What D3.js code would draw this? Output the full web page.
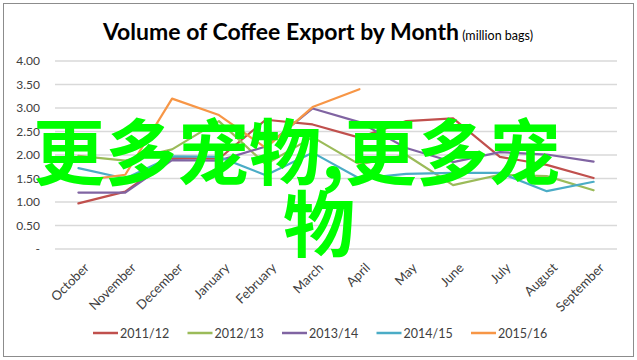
<!DOCTYPE html>
<html><head><meta charset="utf-8">
<script src="https://cdn.jsdelivr.net/npm/d3@7"></script>
<style>body{margin:0;background:#fff}svg{display:block}</style>
</head><body>
<svg id="c" width="637" height="360"></svg>
<script>
const months = ["October","November","December","January","February","March","April","May","June","July","August","September"];
const seriesNames = ["2011/12","2012/13","2013/14","2014/15","2015/16"];
const colors = ["#C0504D","#9BBB59","#8064A2","#4BACC6","#F79646"];
const s2011 = [0.97,1.22,1.94,1.92,2.75,2.65,2.37,2.72,2.78,1.96,1.79,1.51];
const s2012 = [1.98,1.88,2.12,2.72,1.80,2.38,1.80,2.00,1.36,1.58,1.55,1.25];
const s2013 = [1.20,1.20,1.89,1.88,2.18,2.99,2.70,2.15,1.85,2.06,2.01,1.86];
const s2014 = [1.72,1.50,1.97,1.96,1.57,2.05,1.50,1.60,1.62,1.62,1.23,1.43];
const s2015 = [1.45,1.58,3.20,2.85,2.15,3.02,3.40,null,null,null,null,null];
const yTicks = [0,0.5,1,1.5,2,2.5,3,3.5,4];
const titleMain = "Volume of Coffee Export by Month";
const titleSub = "(million bags)";
const overlayLines = ["更多宠物,更多宠","物"];

const data = [s2011,s2012,s2013,s2014,s2015];
const svg = d3.select("#c");

svg.append("rect").attr("x",3.5).attr("y",3.5).attr("width",630).attr("height",353)
  .attr("fill","#fff").attr("stroke","#8c8c8c").attr("stroke-width",1);

const x = d3.scalePoint().domain(months).range([55,617]).padding(0.5);
const y = d3.scaleLinear().domain([0,4]).range([249,61]);

// gridlines
svg.append("g").selectAll("line").data(yTicks).join("line")
  .attr("x1",55).attr("x2",617).attr("y1",d=>y(d)).attr("y2",d=>y(d))
  .attr("stroke","#d9d9d9").attr("stroke-width",1.3);

// y labels
const yAxis = d3.axisLeft(y).tickValues(yTicks).tickSize(0).tickPadding(0)
  .tickFormat(d=> d===0 ? "-" : d3.format(".2f")(d));
const gy = svg.append("g").attr("transform","translate(40,0)").call(yAxis);
gy.select(".domain").remove();
gy.selectAll("text").attr("font-family","Lato, 'Liberation Sans', sans-serif").attr("font-size",12).attr("fill","#404040");

// x labels
const xAxis = d3.axisBottom(x).tickSize(0).tickPadding(0);
const gx = svg.append("g").call(xAxis);
gx.select(".domain").remove();
gx.selectAll(".tick").attr("transform",d=>`translate(${x(d)+5},262)`);
gx.selectAll("text").attr("font-family","Lato, 'Liberation Sans', sans-serif").attr("font-size",13).attr("fill","#404040")
  .attr("text-anchor","end").attr("y",0).attr("dy","0.71em").attr("transform","rotate(-45)");

// lines
const line = d3.line().defined(d=>d!=null).x((d,i)=>x(months[i])).y(d=>y(d));
svg.append("g").selectAll("path").data(data).join("path")
  .attr("d",line).attr("fill","none").attr("stroke",(d,i)=>colors[i])
  .attr("stroke-width",2.2).attr("stroke-linejoin","round").attr("stroke-linecap","round");

// title
const t = svg.append("text").attr("x",318).attr("y",40).attr("text-anchor","middle")
  .attr("font-family","Lato, 'Liberation Sans', sans-serif").attr("fill","#000");
t.append("tspan").text(titleMain).attr("font-size",23).attr("font-weight",700);
t.append("tspan").text(" " + titleSub).attr("font-size",12.5).attr("font-weight",400);

// legend
const lg = svg.append("g").selectAll("g").data(seriesNames).join("g")
  .attr("transform",(d,i)=>`translate(${93+i*94.5},333)`);
lg.append("line").attr("x1",0).attr("x2",25).attr("y1",0).attr("y2",0)
  .attr("stroke",(d,i)=>colors[i]).attr("stroke-width",2.5);
lg.append("text").attr("x",27).attr("y",4.5).text(d=>d)
  .attr("font-family","Lato, 'Liberation Sans', sans-serif").attr("font-size",12.5).attr("fill","#404040");

// overlay text
svg.append("g").selectAll("text").data(overlayLines).join("text")
  .attr("x",(d,i)=> i===0 ? 33 : 283)
  .attr("y",(d,i)=> 179 + i*72)
  .text(d=>d)
  .attr("font-family","'Noto Sans CJK SC', sans-serif").attr("font-size",72).attr("font-weight",700)
  .attr("fill","#00ff00");
</script>
</body></html>
